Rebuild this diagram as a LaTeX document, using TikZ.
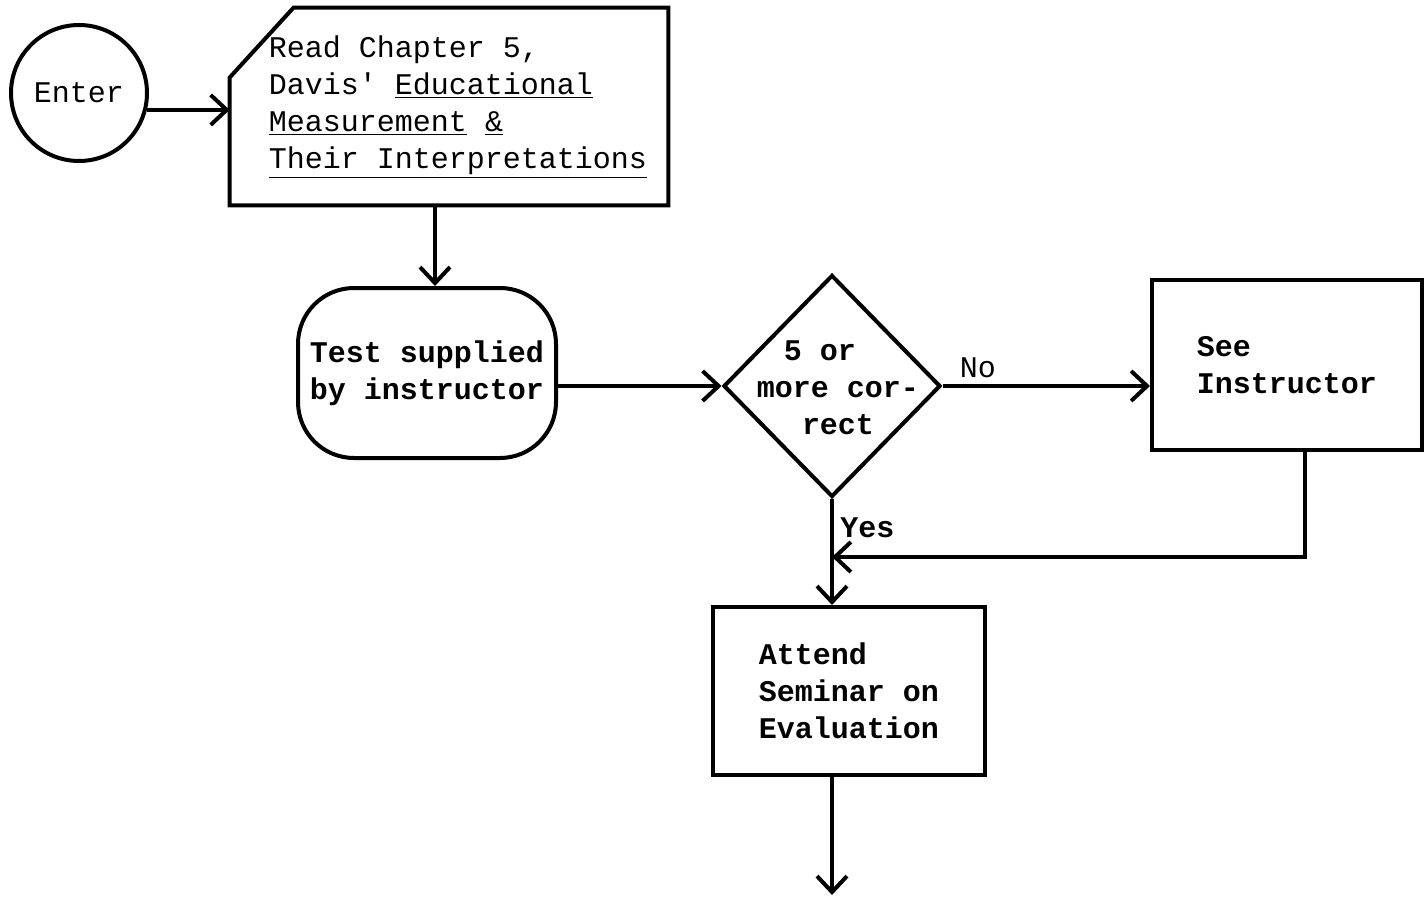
\documentclass[tikz,border=0pt]{standalone}
\usepackage{fontspec}
\setmonofont{Liberation Mono}
\usetikzlibrary{shapes.geometric, arrows.meta, positioning}

\begin{document}
\begin{tikzpicture}[x=0.5pt, y=-0.5pt,
    every node/.style={font=\ttfamily\fontsize{15}{18.5}\selectfont},
    heavy/.style={font=\ttfamily\bfseries\fontsize{15}{18.5}\selectfont},
    box/.style={draw, line width=2pt, inner sep=0pt},
    arr/.style={line width=1.6pt, -{Straight Barb[length=8pt,width=15pt,line width=2pt]}}]

    \useasboundingbox (0,0) rectangle (1426,899);

    % Start
    \node[box, circle, minimum size=68pt] (enter) at (79,93) {Enter};

    % Reading assignment, box with the cut corner
    \node[minimum width=219pt, minimum height=98.5pt, inner sep=0pt] (read) at (449,106.5) {};
    \draw[line width=2pt] ([yshift=-35pt]read.north west) -- ([xshift=32pt]read.north west)
        -- (read.north east) -- (read.south east) -- (read.south west) -- cycle;
    \node[align=left] (readtext) at (458,107)
        {Read Chapter 5,\\Davis' \underline{Educational}\\\underline{Measurement} \underline{\&}\\\underline{Their Interpretations}};

    % Test
    \node[box, heavy, rounded corners=28pt, minimum width=129pt, minimum height=85pt, align=center] (test) at (427,373)
        {Test supplied\\by instructor};

    % Decision
    \node[box, diamond, minimum width=108.5pt, minimum height=111pt] (dec) at (832,386) {};
    \node[heavy, align=center] (dectext) at (838,388) {5 or\hspace*{1.2em}\\more cor-\\rect};

    % See instructor
    \node[box, heavy, minimum width=135pt, minimum height=85pt, align=left] (see) at (1287,365) {See\\Instructor};

    % Seminar
    \node[box, heavy, minimum width=136pt, minimum height=84pt, align=left] (attend) at (849,691)
        {Attend\\Seminar on\\Evaluation};

    \coordinate (join) at (832,557);
    \coordinate (exit) at (832,895);

    % Flow lines
    \draw[arr] (enter.-14) -- (enter.-14 -| read.west);
    \draw[arr] ([xshift=4pt]read.south -| test.north) -- ([xshift=4pt]test.north);
    \draw[arr] (test.east |- dec.west) -- (dec.west);
    \draw[arr] (dec.east) -- node[above, pos=0.17] (no) {No} (dec.east -| see.west);
    \draw[arr] (dec.south) -- node[right, heavy, pos=0.27] (yes) {Yes} (dec.south |- attend.north);
    \draw[arr] ([xshift=9pt]see.south) |- (join);
    \draw[arr] (attend.south -| dec.south) -- (exit);

\end{tikzpicture}
\end{document}
